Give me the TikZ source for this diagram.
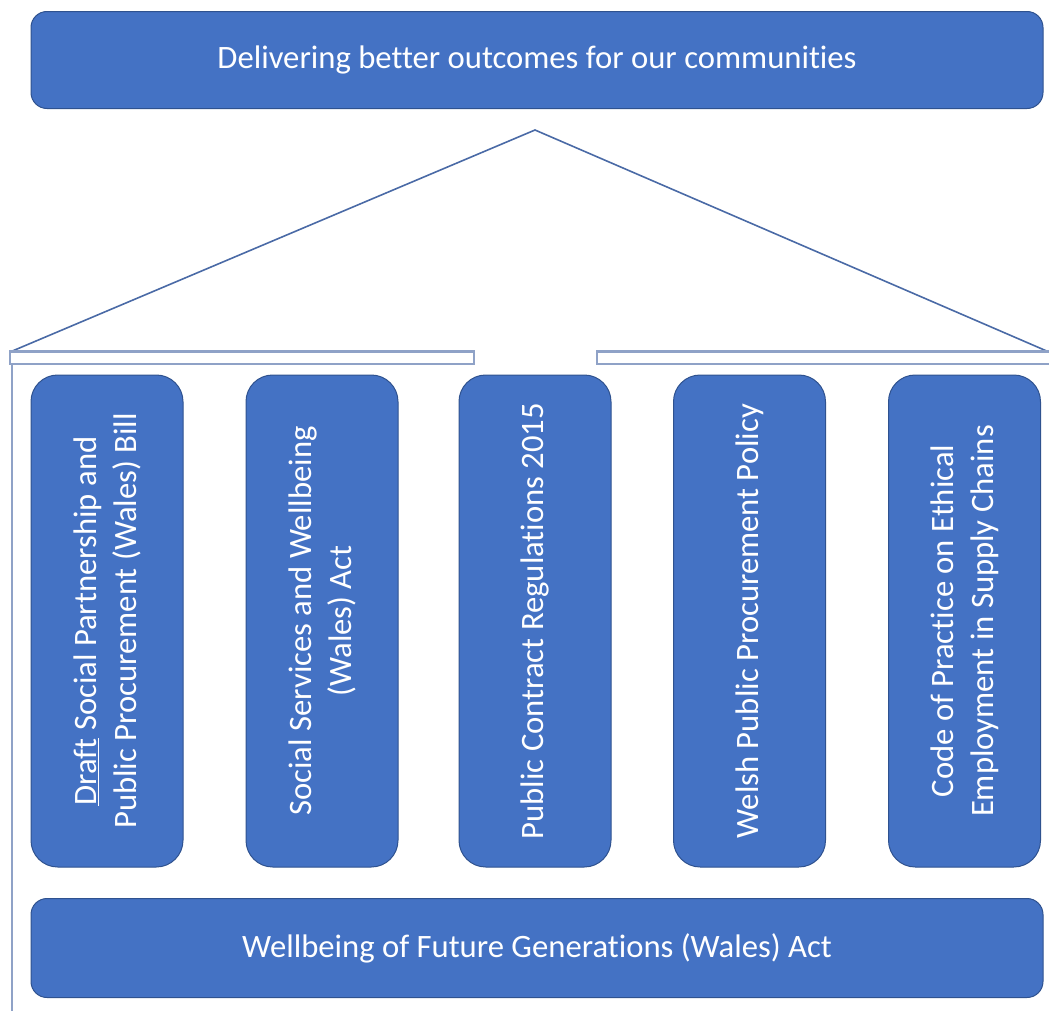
\documentclass[tikz,border=0pt]{standalone}
\usepackage{fontspec}
\setmainfont{Carlito}[Ligatures=NoCommon]
\definecolor{boxblue}{HTML}{4472C4}
\definecolor{boxedge}{HTML}{2F528F}
\definecolor{roofblue}{HTML}{4A6AA6}
\definecolor{beamblue}{HTML}{8FA2C7}
\tikzset{
  slab/.style={draw=boxedge, fill=boxblue, line width=0.75pt, rounded corners=12pt,
    text=white, inner sep=0pt, align=center, font=\fontsize{24.5}{30}\selectfont},
  pillar/.style={slab, rounded corners=20pt, rotate=90, minimum width=369pt, minimum height=114pt},
  roofline/.style={draw=roofblue, line width=1.2pt},
  beam/.style={draw=beamblue, line width=1.8pt},
}

\begin{document}
\begin{tikzpicture}[x=0.75pt,y=0.75pt,yscale=-1,xscale=1]
\useasboundingbox (0,0) rectangle (1049,1010);

%Rounded Rect: top
\node [slab, minimum width=759pt, minimum height=72.75pt] (outcomes) at (537,60) {Delivering better outcomes for our communities};

%Straight Lines: roof
\coordinate (roofL) at (10,352);
\coordinate (apex) at (535,130);
\coordinate (roofR) at (1049,352);
\draw [roofline]  (roofL) -- (apex) -- (roofR) ;

%Flowchart: Process (beam, split)
\draw [beam]   (10,351.5) rectangle (474,364) ;
\draw [beam]   (597,351.5) rectangle (1060,364) ;
%Straight Lines: left edge
\draw [beam]   (12,364) -- (12,1015) ;

%Rounded Rect: pillars
\node [pillar] (bill) at (107,621) {\underline{Draft} Social Partnership and\\Public Procurement (Wales) Bill};
\node [pillar] (ssw) at (322,621) {Social Services and Wellbeing\\(Wales) Act};
\node [pillar] (pcr) at (535,621) {Public Contract Regulations 2015};
\node [pillar] (wppp) at (749.5,621) {Welsh Public Procurement Policy};
\node [pillar] (code) at (964.5,621) {Code of Practice on Ethical\\Employment in Supply Chains};

%Rounded Rect: base
\node [slab, minimum width=759pt, minimum height=74.25pt] (wfg) at (537,948) {Wellbeing of Future Generations (Wales) Act};

\end{tikzpicture}
\end{document}
